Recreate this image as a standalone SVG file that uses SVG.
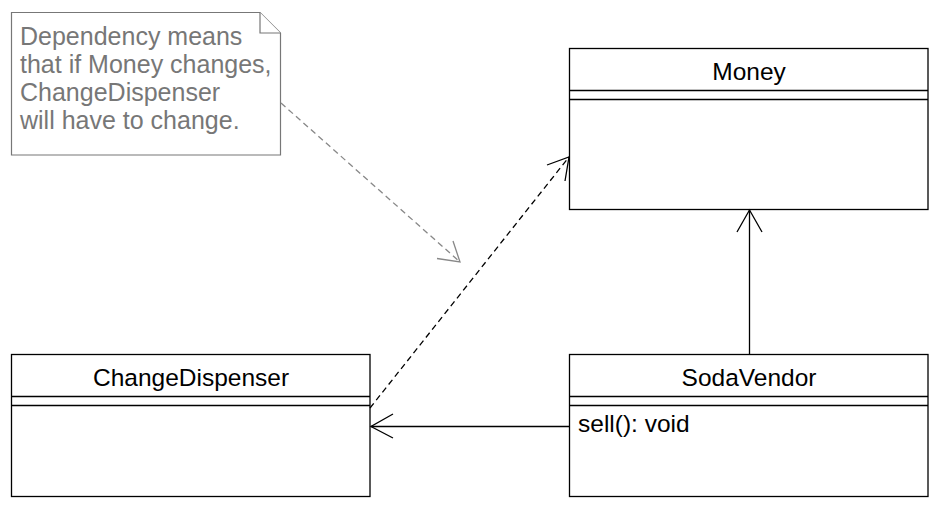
<svg xmlns="http://www.w3.org/2000/svg" width="940" height="510" viewBox="0 0 940 510">
<style>
.box{fill:#fff;stroke:#000;stroke-width:1.3}
.ln{stroke:#000;stroke-width:1.3;fill:none}
.t{font-family:"Liberation Sans",Arial,sans-serif;font-size:24.5px;fill:#000}
.note{fill:#fff;stroke:#777;stroke-width:1.2}
.nt{font-family:"Liberation Sans",Arial,sans-serif;font-size:25px;fill:#777}
.dash{stroke-dasharray:6,4}
</style>
<rect width="940" height="510" fill="#fff"/>
<g id="note">
<path class="note" d="M11.5,12.5 H260 L280.5,33 V155 H11.5 Z"/>
<path class="note" d="M260,12.5 V33 H280.5" fill="none"/>
<text class="nt" x="20" y="44.5">Dependency means</text>
<text class="nt" x="20" y="72.5">that if Money changes,</text>
<text class="nt" x="20" y="100.5">ChangeDispenser</text>
<text class="nt" x="20" y="128.5">will have to change.</text>
</g>
<g id="money">
<rect class="box" x="569.5" y="48.5" width="358.5" height="161"/>
<line class="ln" x1="569.5" y1="90.5" x2="928" y2="90.5"/>
<line class="ln" x1="569.5" y1="99.5" x2="928" y2="99.5"/>
<text class="t" x="749" y="80" text-anchor="middle">Money</text>
</g>
<g id="changedispenser">
<rect class="box" x="11.5" y="354.5" width="358.5" height="142"/>
<line class="ln" x1="11.5" y1="396.5" x2="370" y2="396.5"/>
<line class="ln" x1="11.5" y1="405.5" x2="370" y2="405.5"/>
<text class="t" x="191" y="386" text-anchor="middle">ChangeDispenser</text>
</g>
<g id="sodavendor">
<rect class="box" x="569.5" y="354.5" width="358.5" height="142"/>
<line class="ln" x1="569.5" y1="396.5" x2="928" y2="396.5"/>
<line class="ln" x1="569.5" y1="405.5" x2="928" y2="405.5"/>
<text class="t" x="749" y="386" text-anchor="middle">SodaVendor</text>
<text class="t" x="578" y="432">sell(): void</text>
</g>
<g id="connectors">
<path class="ln dash" style="stroke:#888" d="M281,103 L460,262"/>
<path class="ln" style="stroke:#888" d="M437,258.5 L460,262 L453,241"/>
<path class="ln dash" d="M370,408 L569,157"/>
<path class="ln" d="M547,165 L569,157 L565,181"/>
<path class="ln" d="M749.5,354 V210"/>
<path class="ln" d="M737,232 L749.5,210 L762,232"/>
<path class="ln" d="M569,426.5 H371"/>
<path class="ln" d="M393,414 L371,426.5 L393,438"/>
</g>
</svg>
